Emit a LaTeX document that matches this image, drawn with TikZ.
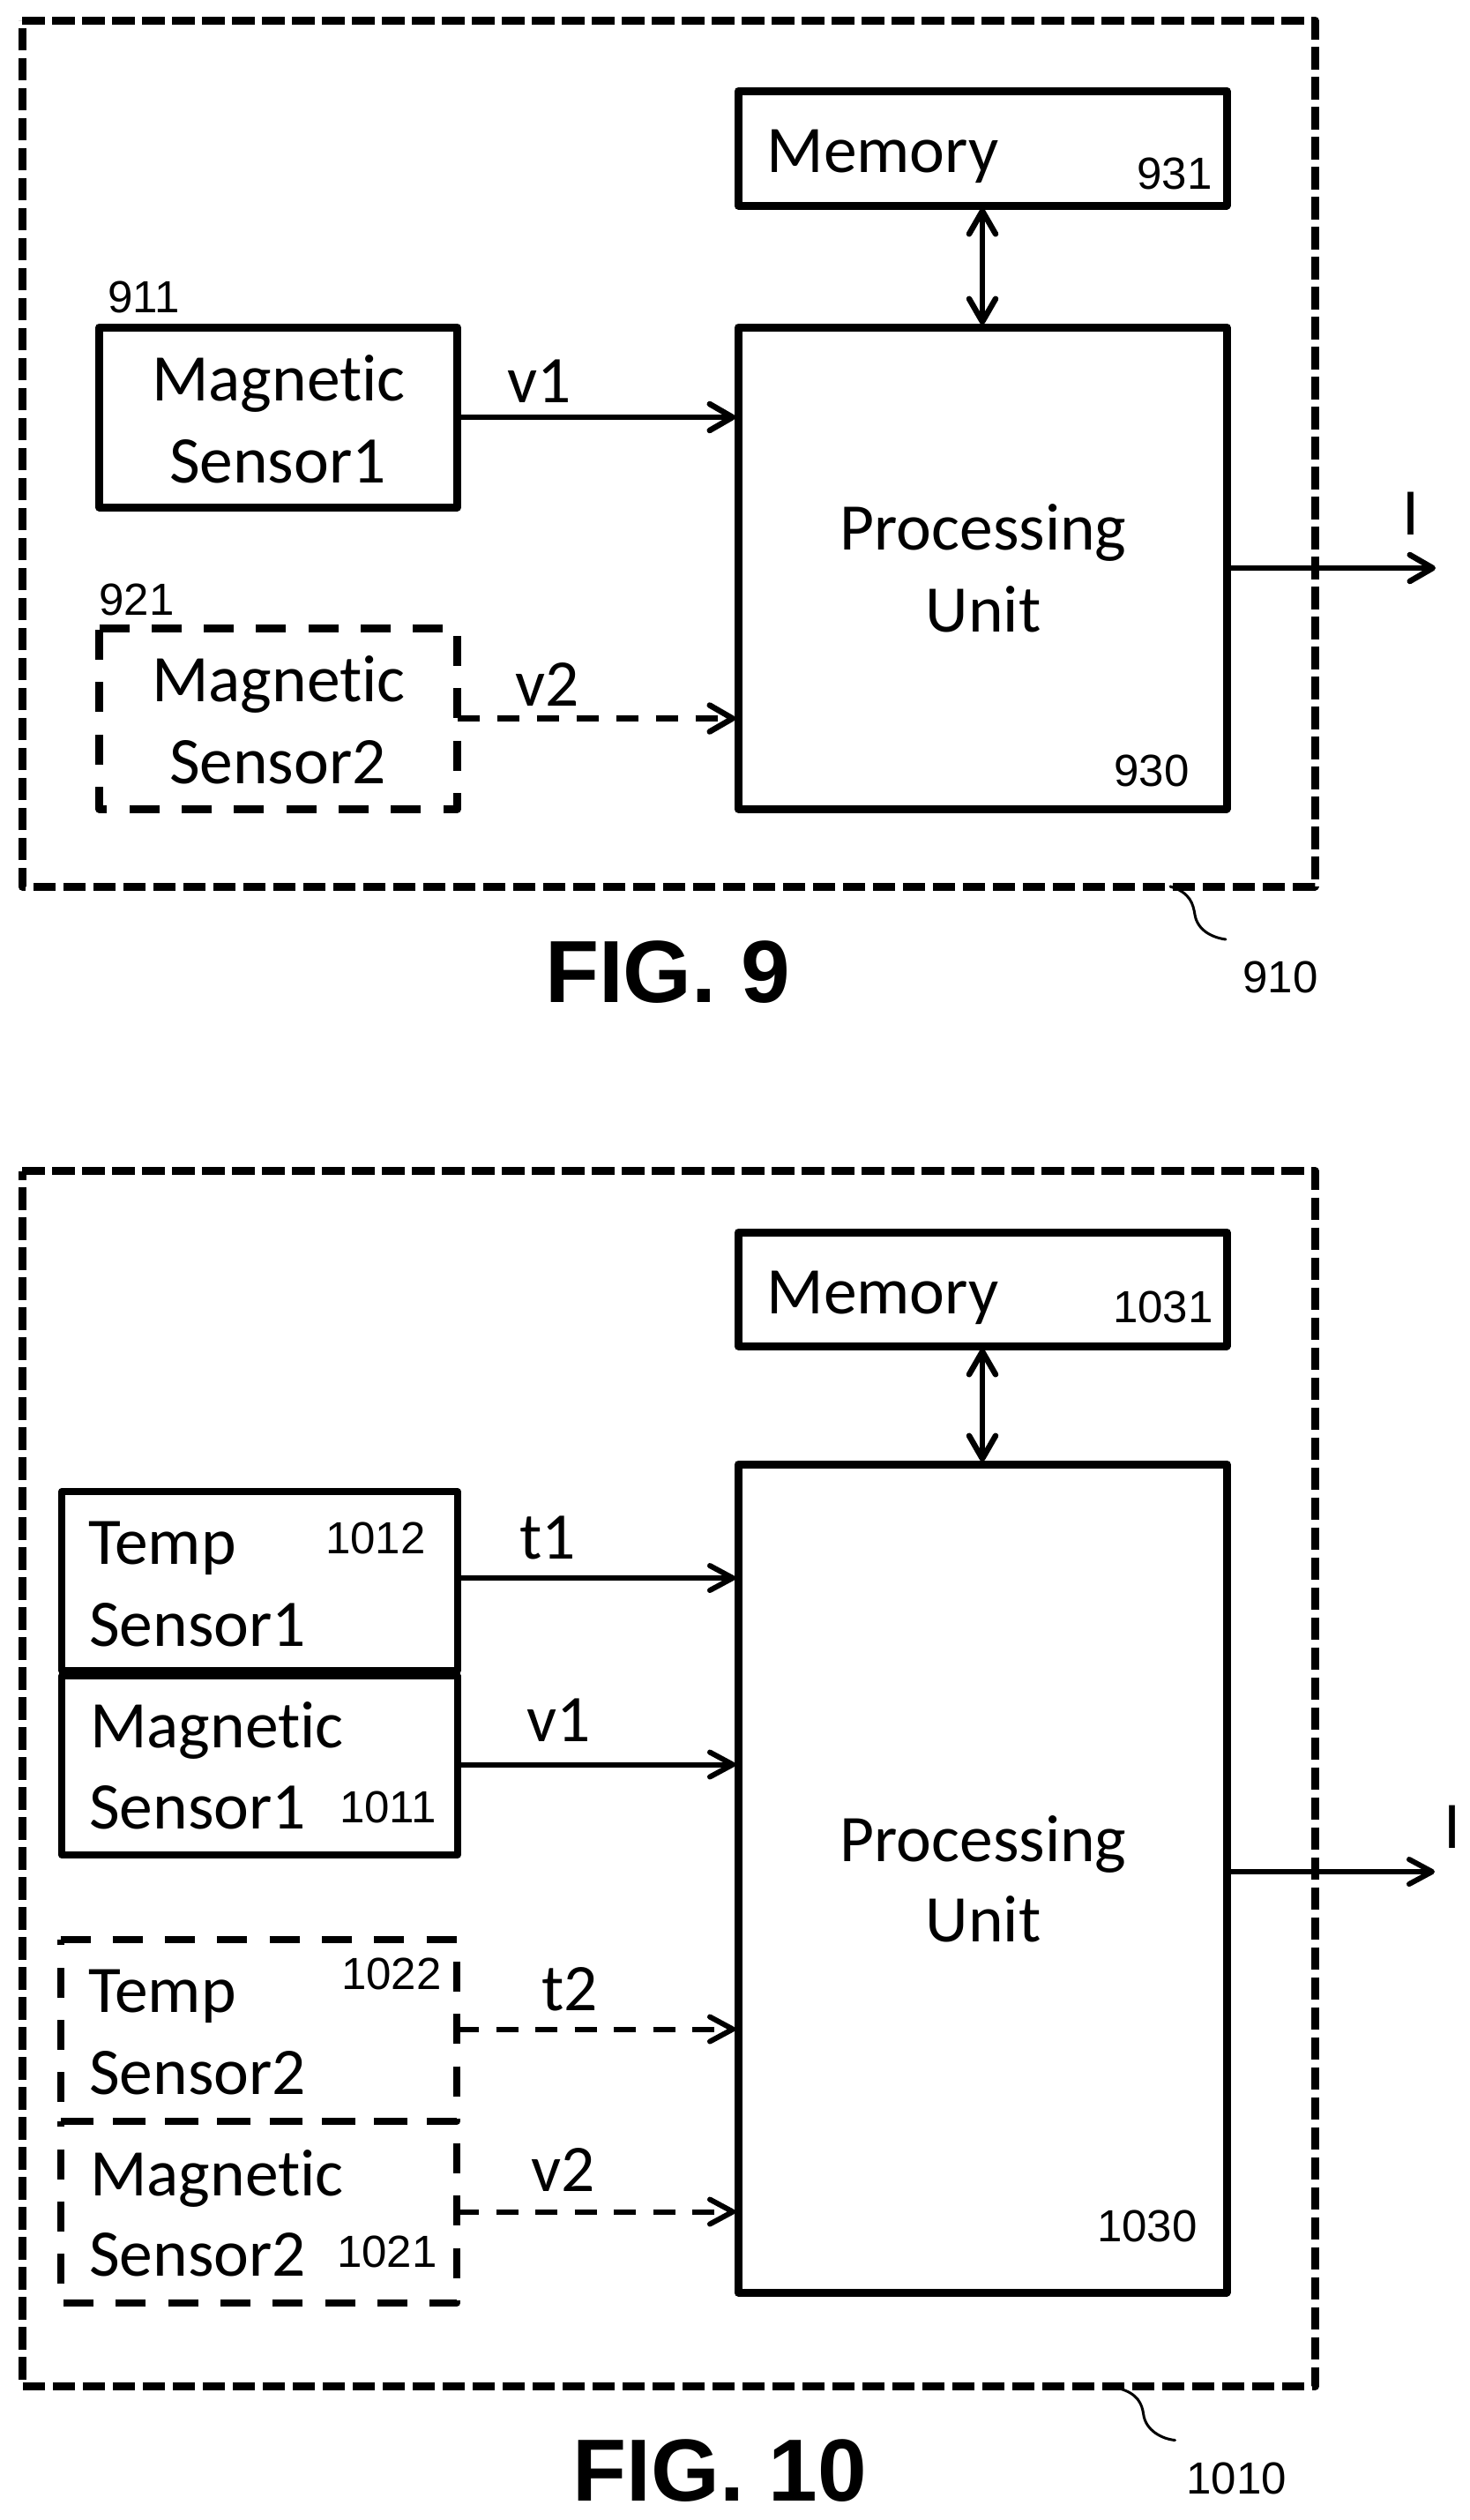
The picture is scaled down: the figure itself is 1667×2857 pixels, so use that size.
\documentclass[tikz,border=0pt]{standalone}
\usepackage{fontspec}
\setmainfont[RawFeature={-liga}]{Carlito}
\newfontfamily\figfont{Liberation Sans}
\usetikzlibrary{arrows.meta}
\newcommand{\txtA}{\fontsize{75.5}{90}\selectfont}
\newcommand{\txtD}{\figfont\fontsize{51}{60}\selectfont}
\newcommand{\txtC}{\figfont\bfseries\fontsize{100}{110}\selectfont}
\tikzset{
  x=1pt,y=-1pt,
  boxsolid/.style={draw=black,line width=9pt,anchor=north west,inner sep=0pt,outer sep=0pt,line join=round},
  boxthin/.style={boxsolid,line width=8pt},
  boxempty/.style={anchor=north west,inner sep=0pt,outer sep=0pt},
  dashloop/.style={line width=9pt,line join=round,dash pattern=on 34pt off 25.3pt},
  dashthin/.style={dashloop,line width=8pt},
  outerloop/.style={line width=9pt,line join=round,dash pattern=on 25.5pt off 8.5pt},
  tipbarb/.tip={Straight Barb[length=26pt,width=30pt,line width=6.5pt,round]},
  tipthin/.tip={Straight Barb[length=26pt,width=28pt,line width=6pt,round]},
  conn/.style={line width=6.5pt,-tipbarb,shorten >=3pt},
  connthin/.style={line width=6pt,-tipthin,shorten >=3pt},
  conndash/.style={conn,dash pattern=on 25.5pt off 19.5pt},
  connthindash/.style={connthin,dash pattern=on 25pt off 19.5pt},
  biconn/.style={line width=6.5pt,tipbarb-tipbarb,shorten >=3pt,shorten <=3pt},
  leader/.style={line width=3pt,line cap=round},
  lbl/.style={font=\txtA,inner sep=0pt,anchor=base},
  lblleft/.style={font=\txtA,inner sep=0pt,anchor=base west},
  numa/.style={font=\txtD,inner sep=0pt,anchor=base},
  figlbl/.style={font=\txtC,inner sep=0pt,anchor=base},
}
\newcommand{\dashedbox}[2][dashloop]{\draw[#1] (#2.north west) -- (#2.north east) -- (#2.south east) -- (#2.south west) -- cycle;}
\begin{document}
\begin{tikzpicture}
\useasboundingbox (0,0) rectangle (1667,2857);
% FIG 9
\node[boxempty,minimum width=1466pt,minimum height=982pt] (o9) at (25,23) {};
\dashedbox[outerloop]{o9}
\node[boxsolid,minimum width=554pt,minimum height=130pt] (mem9) at (837,103) {};
\node[boxsolid,minimum width=554pt,minimum height=546pt] (pu9) at (837,371) {};
\node[boxsolid,minimum width=406pt,minimum height=204pt] (ms91) at (112.5,371) {};
\node[boxempty,minimum width=406pt,minimum height=205pt] (ms92) at (112.5,712) {};
\dashedbox{ms92}
\node[lbl] (tm9) at (1001,195) {Memory};
\node[numa] (n931) at (1332,214) {931};
\node[numa] (n911) at (163,354) {911};
\node[numa] (n921) at (155,697) {921};
\node[numa] (n930) at (1306,891) {930};
\node[numa] (n910) at (1452,1125) {910};
\node[lbl] (tv91) at (612,456) {v1};
\node[lbl] (tv92) at (621,800) {v2};
\node[lbl] (ti9) at (1600,606) {I};
\node[lbl] (ts91a) at (316,454) {Magnetic};
\node[lbl] (ts91b) at (315,547) {Sensor1};
\node[lbl] (ts92a) at (316,795) {Magnetic};
\node[lbl] (ts92b) at (315,888) {Sensor2};
\node[lbl] (tp9a) at (1115,623) {Processing};
\node[lbl] (tp9b) at (1115,716) {Unit};
\node[figlbl] (f9) at (757,1136) {FIG. 9};
\coordinate (i9) at (1628,644);
\coordinate (l9s) at (1327,1005);
\coordinate (l9) at (1390,1065);
\draw[conn] (ms91.east) -- (ms91.east -| pu9.west);
\draw[conndash] (ms92.east) -- (ms92.east -| pu9.west);
\draw[conn,shorten >=0pt] (i9 -| pu9.east) -- (i9);
\draw[biconn] (mem9.south) -- (pu9.north);
\draw[leader] (l9s) .. controls (1350,1012) and (1353,1025) .. (1355,1037) .. controls (1358,1055) and (1375,1063) .. (l9);
% FIG 10
\node[boxempty,minimum width=1466pt,minimum height=1378pt] (o10) at (25,1327.5) {};
\dashedbox[outerloop]{o10}
\node[boxsolid,minimum width=554pt,minimum height=129pt] (mem10) at (837,1397) {};
\node[boxsolid,minimum width=554pt,minimum height=939pt] (pu10) at (837,1660) {};
\node[boxthin,minimum width=448.5pt,minimum height=203pt] (t101) at (70,1691) {};
\node[boxthin,minimum width=448.5pt,minimum height=203pt] (m101) at (70,1900) {};
\node[boxempty,minimum width=449.5pt,minimum height=206pt] (t102) at (68.5,2199) {};
\node[boxempty,minimum width=449.5pt,minimum height=206pt] (m102) at (68.5,2405) {};
\dashedbox[dashthin]{t102}
\dashedbox[dashthin]{m102}
\node[lbl] (tm10) at (1001,1489) {Memory};
\node[numa] (n1031) at (1319,1499) {1031};
\node[numa] (n1012) at (426,1761) {1012};
\node[numa] (n1011) at (440,2066) {1011};
\node[numa] (n1022) at (444,2255) {1022};
\node[numa] (n1021) at (439,2570) {1021};
\node[numa] (n1030) at (1301,2541) {1030};
\node[numa] (n1010) at (1402,2827) {1010};
\node[lbl] (tt1) at (621,1767) {t1};
\node[lbl] (tv1) at (634,1974) {v1};
\node[lbl] (tt2) at (646,2279) {t2};
\node[lbl] (tv2) at (639,2484) {v2};
\node[lbl] (ti10) at (1647,2095) {I};
\node[lblleft] (t1a) at (100,1773) {Temp};
\node[lblleft] (t1b) at (101,1866) {Sensor1};
\node[lblleft] (m1a) at (102,1981) {Magnetic};
\node[lblleft] (m1b) at (101,2073) {Sensor1};
\node[lblleft] (t2a) at (100,2281) {Temp};
\node[lblleft] (t2b) at (101,2374) {Sensor2};
\node[lblleft] (m2a) at (102,2489) {Magnetic};
\node[lblleft] (m2b) at (101,2580) {Sensor2};
\node[lbl] (tp10a) at (1115,2110) {Processing};
\node[lbl] (tp10b) at (1115,2201) {Unit};
\node[figlbl] (f10) at (816.5,2835) {FIG. 10};
\coordinate (i10) at (1627,2122);
\coordinate (l10s) at (1270,2708);
\coordinate (l10) at (1332.5,2766.5);
\draw[connthin] (t101.east |- 0,1789) -- (pu10.west |- 0,1789);
\draw[connthin] (m101.east |- 0,2000.5) -- (pu10.west |- 0,2000.5);
\draw[connthindash] (t102.east |- 0,2300.5) -- (pu10.west |- 0,2300.5);
\draw[connthindash] (m102.east |- 0,2507.5) -- (pu10.west |- 0,2507.5);
\draw[connthin,shorten >=0pt] (i10 -| pu10.east) -- (i10);
\draw[biconn] (mem10.south) -- (pu10.north);
\draw[leader] (l10s) .. controls (1290,2714) and (1295,2725) .. (1296.7,2737) .. controls (1299,2755) and (1317,2765) .. (l10);
\end{tikzpicture}
\end{document}
